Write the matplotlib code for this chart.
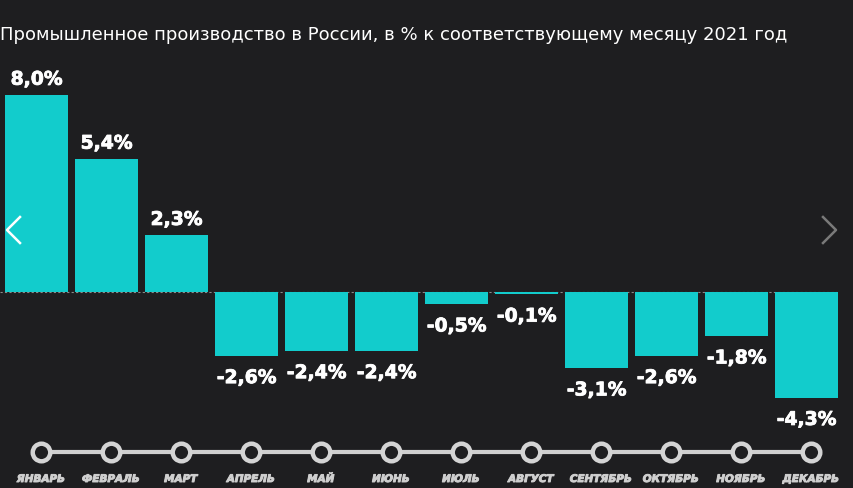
import matplotlib
matplotlib.use("Agg")
import matplotlib.pyplot as plt
from matplotlib.lines import Line2D
import matplotlib.patheffects as pe

months = ["ЯНВАРЬ", "ФЕВРАЛЬ", "МАРТ", "АПРЕЛЬ", "МАЙ", "ИЮНЬ",
          "ИЮЛЬ", "АВГУСТ", "СЕНТЯБРЬ", "ОКТЯБРЬ", "НОЯБРЬ", "ДЕКАБРЬ"]
values = [8.0, 5.4, 2.3, -2.6, -2.4, -2.4, -0.5, -0.1, -3.1, -2.6, -1.8, -4.3]
labels = ["8,0%", "5,4%", "2,3%", "-2,6%", "-2,4%", "-2,4%",
          "-0,5%", "-0,1%", "-3,1%", "-2,6%", "-1,8%", "-4,3%"]
title = "Промышленное производство в России, в % к соответствующему месяцу 2021 год"

BG = "#1e1e20"
BAR = "#12cccc"

W, H = 854, 489
fig = plt.figure(figsize=(W / 100, H / 100), dpi=100, facecolor=BG)
ax = fig.add_axes([0, 0, 1, 1])
ax.set_facecolor(BG)
ax.axis("off")

px_per_x = 70.0
px_per_y = 24.6
x0_px = 36.5
y0_px = 293.0
ax.set_xlim(-x0_px / px_per_x, (W - x0_px) / px_per_x)
ax.set_ylim(-(H - y0_px) / px_per_y, y0_px / px_per_y)

xs = list(range(len(values)))
ax.bar(xs, values, width=0.89, color=BAR, zorder=2)

# dotted zero line
ax.axhline(0, xmin=0, xmax=837 / W, color="#8a8a8a", lw=0.8, ls=(0, (2, 2)), zorder=1)

bold_fx = [pe.withStroke(linewidth=0.6, foreground="white")]
for x, v, lab in zip(xs, values, labels):
    yy = v + 0.65 if v >= 0 else v - 0.88
    ax.text(x, yy, lab, ha="center", va="center", color="white",
            fontsize=13.5, fontweight="bold", family="DejaVu Sans",
            path_effects=bold_fx)

# timeline
y_tl = -(453 - y0_px) / px_per_y
y_lab = -(480 - y0_px) / px_per_y
tl_x = [x + 0.06 for x in xs]
ax.plot([tl_x[0], tl_x[-1]], [y_tl, y_tl], color="#cfcfcf", lw=3, zorder=3,
        solid_capstyle="butt")
ax.scatter(tl_x, [y_tl] * len(xs), s=160, facecolor=BG, edgecolor="#d4d4d4",
           linewidths=3.2, zorder=4)
mfx = [pe.withStroke(linewidth=0.7, foreground="#cfcfcf")]
for x, m in zip(tl_x, months):
    ax.text(x, y_lab, m, ha="center", va="center", color="#cfcfcf",
            fontsize=7.5, fontweight="bold", style="italic", family="DejaVu Sans",
            path_effects=mfx)

# title
fig.text(0.0, 1 - 35 / H, title, ha="left", va="center", color="white",
         fontsize=13, family="DejaVu Sans")

# navigation arrows
fig.add_artist(Line2D([20 / W, 7 / W, 20 / W], [1 - 218 / H, 1 - 231 / H, 1 - 244 / H],
                      color="white", lw=1.8))
fig.add_artist(Line2D([823 / W, 836 / W, 823 / W], [1 - 218 / H, 1 - 231 / H, 1 - 244 / H],
                      color="#7a7a7a", lw=1.8))

fig.savefig("out.png", dpi=100, facecolor=BG)
